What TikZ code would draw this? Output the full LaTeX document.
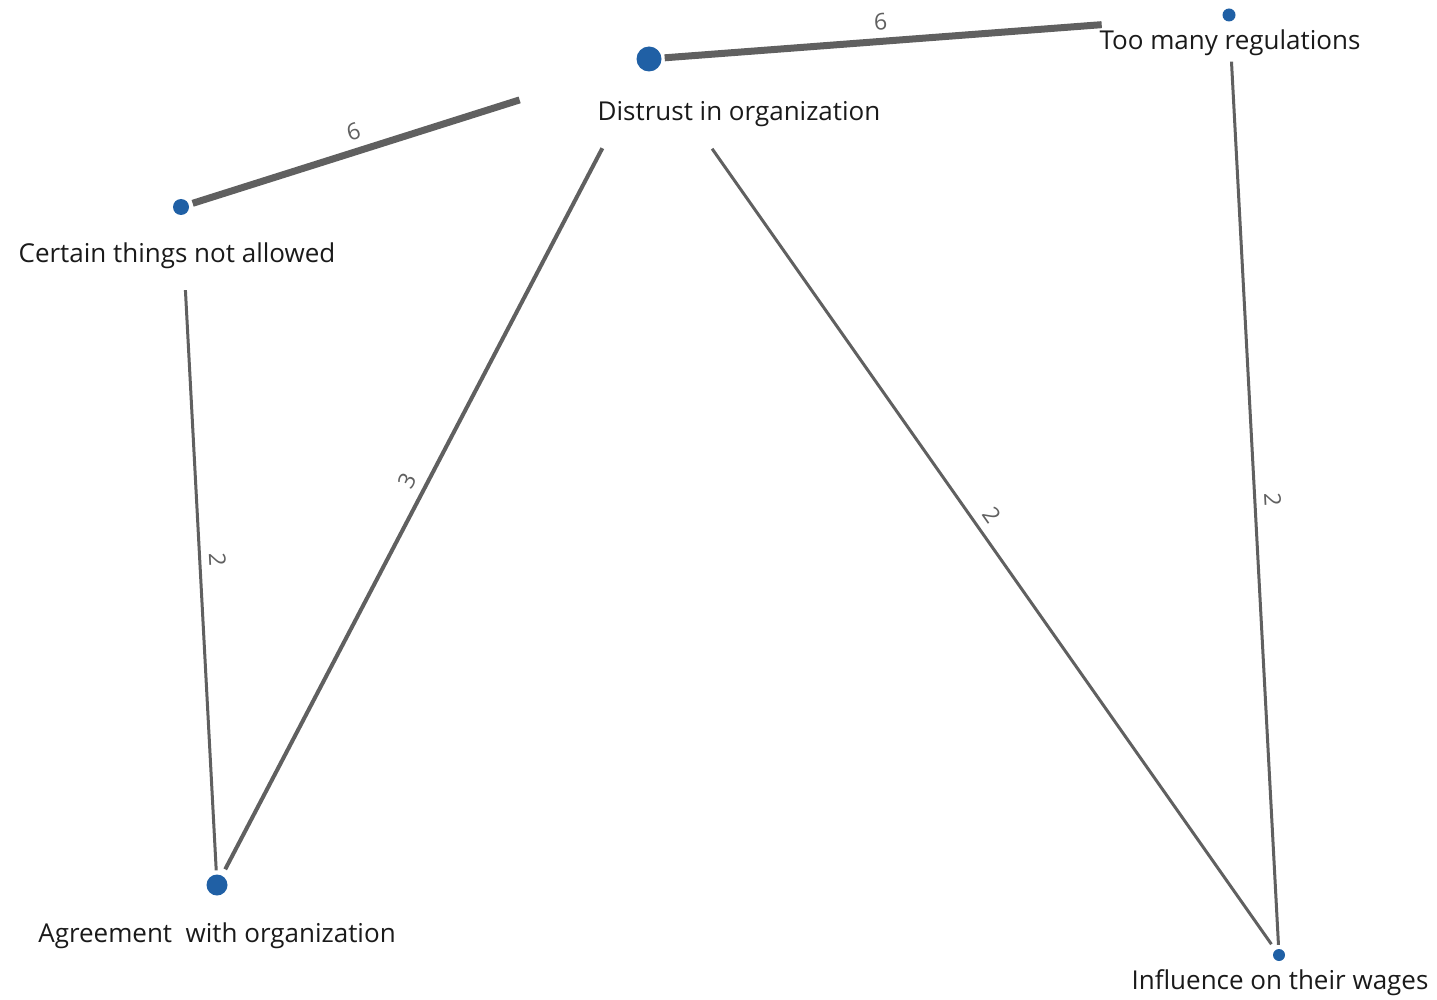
\documentclass[tikz,border=0pt]{standalone}
\usepackage{fontspec}
\setmainfont{Open Sans}
\definecolor{dotblue}{HTML}{2060A5}
\definecolor{edgegrey}{HTML}{606060}
\definecolor{labelink}{HTML}{1A1A1A}
\begin{document}
\begin{tikzpicture}[x=1pt,y=-1pt,
  conceptdot/.style={circle,fill=dotblue,draw=none,inner sep=0pt,minimum size=#1},
  conceptname/.style={anchor=base,inner sep=0pt,text=labelink,font=\fontsize{26}{30}\selectfont},
  linkline/.style={draw=edgegrey,line width=#1},
  weightlabel/.style={sloped,above=5pt,inner sep=3pt,text=edgegrey,font=\fontsize{23}{27}\selectfont}]
\useasboundingbox (0,0) rectangle (1437,1000);

% concept dots
\node[conceptdot=25pt] (dis) at (649,59) {};
\node[conceptdot=13pt] (reg) at (1229,15) {};
\node[conceptdot=16pt] (cer) at (181,207) {};
\node[conceptdot=21pt] (agr) at (217,885) {};
\node[conceptdot=12pt] (inf) at (1279,955) {};

% concept names
\node[conceptname] (disname) at (739,121) {Distrust in organization};
\node[conceptname] (regname) at (1230,50) {Too many regulations};
\node[conceptname] (cername) at (177,263) {Certain things not allowed};
\node[conceptname] (agrname) at (217,942) {Agreement\ \ with organization};
\node[conceptname] (infname) at (1280,989) {Influence on their wages};

% weighted links, cut back where they meet the names
\draw[linkline=7pt, shorten <=3pt, shorten >=121pt] (dis) -- node[weightlabel,pos=0.393] {6} (reg);
\draw[linkline=7pt, shorten <=4pt, shorten >=123pt] (cer) -- node[weightlabel,pos=0.381] {6} (dis);
\draw[linkline=4pt, shorten <=7pt, shorten >=88pt] (agr) -- node[weightlabel,pos=0.479] {3} (dis);
\draw[linkline=3pt, shorten <=97pt, shorten >=7pt] (dis) -- node[weightlabel,pos=0.518] {2} (inf);
\draw[linkline=3pt, shorten <=40pt, shorten >=4pt] (reg) -- node[weightlabel,pos=0.517] {2} (inf);
\draw[linkline=3pt, shorten <=75pt, shorten >=4pt] (cer) -- node[weightlabel,pos=0.524] {2} (agr);
\end{tikzpicture}
\end{document}
